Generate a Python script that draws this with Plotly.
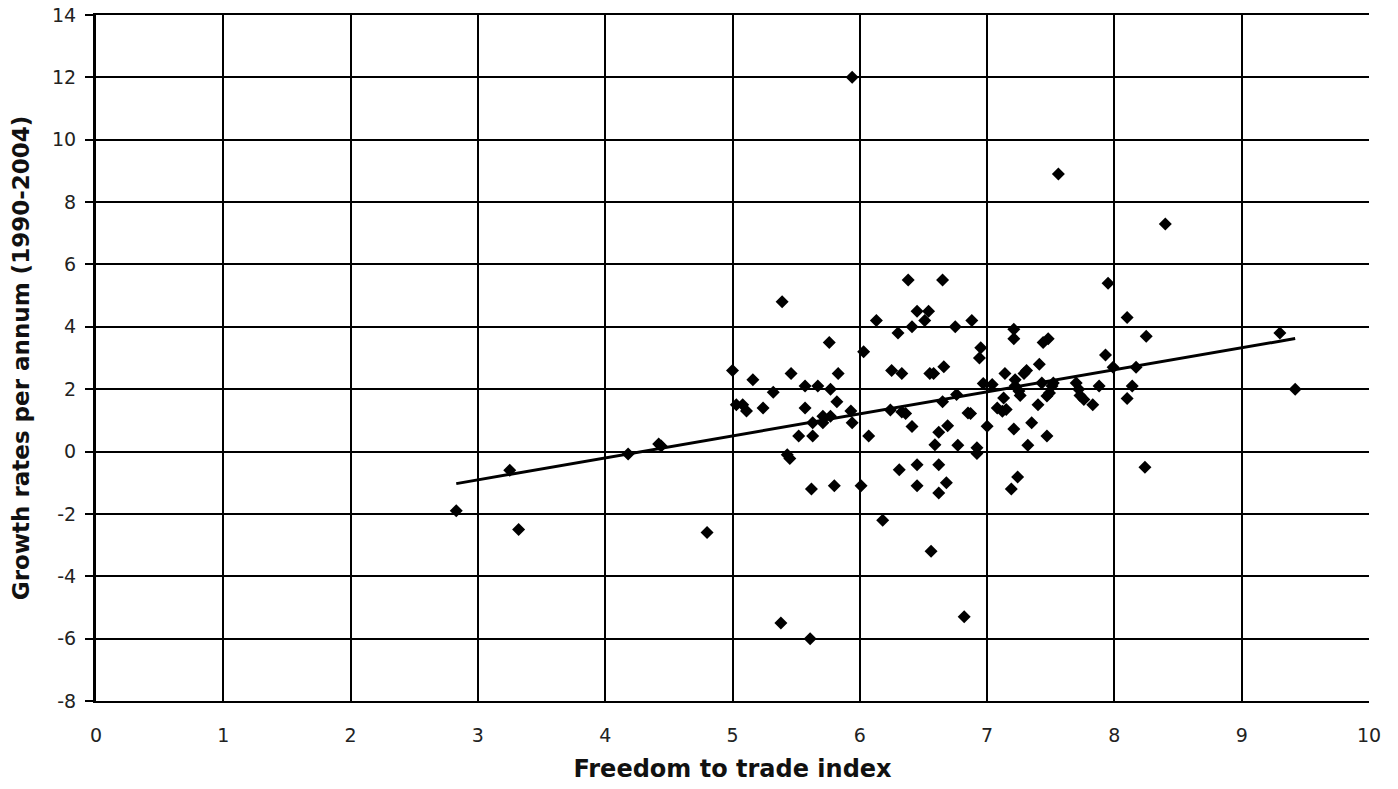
import numpy as np
import plotly.graph_objects as go

# Freedom to trade index (x) and growth rate per annum 1990-2004 (y)
freedom = [
    2.83, 3.25, 3.32, 4.18, 4.42, 4.44, 4.80, 5.38, 5.61, 6.56, 6.82, 5.94, 7.56, 8.40, 9.30, 9.42,
    5.39, 5.00, 5.16, 5.32, 5.46, 5.57, 5.67, 5.76, 5.77, 5.83, 5.82, 5.03, 5.08, 5.11, 5.24, 5.57,
    5.93, 5.94, 5.63, 5.71, 5.71, 5.77, 5.52, 5.63, 5.43, 5.45, 5.62, 5.80, 6.01, 6.07, 6.03, 6.13, 6.18,
    6.38, 6.65, 6.45, 6.54, 6.51, 6.41, 6.30, 6.25, 6.33, 6.55, 6.58, 6.66, 6.24, 6.33, 6.36, 6.41,
    6.65, 6.76, 6.85, 6.62, 6.69, 6.59, 6.31, 6.45, 6.62, 6.45, 6.62, 6.68, 6.75, 6.88, 6.95, 6.94,
    6.77, 6.92, 6.92, 6.97, 6.87,
    7.21, 7.21, 7.44, 7.48, 7.41, 7.14, 7.29, 7.31, 7.22, 7.04, 7.22, 7.25, 7.26, 7.43, 7.51, 7.49,
    7.47, 7.52, 7.70, 7.72, 7.73, 7.76, 7.83, 7.13, 7.08, 7.15, 7.12, 7.40, 7.35, 7.00, 7.21, 7.47,
    7.32, 7.24, 7.19, 7.88, 7.93,
    7.95, 8.10, 8.25, 7.99, 8.17, 8.14, 8.10, 8.24,
]
growth = [
    -1.90, -0.60, -2.50, -0.08, 0.24, 0.18, -2.60, -5.50, -6.00, -3.20, -5.30, 12.00, 8.90, 7.30, 3.80, 2.00,
    4.80, 2.60, 2.30, 1.90, 2.50, 2.10, 2.10, 3.50, 2.00, 2.50, 1.60, 1.50, 1.50, 1.30, 1.40, 1.40,
    1.30, 0.92, 0.92, 1.13, 0.92, 1.13, 0.50, 0.50, -0.10, -0.22, -1.20, -1.10, -1.10, 0.50, 3.20, 4.20, -2.20,
    5.50, 5.50, 4.50, 4.50, 4.20, 4.00, 3.80, 2.60, 2.50, 2.50, 2.50, 2.72, 1.33, 1.27, 1.22, 0.80,
    1.60, 1.83, 1.24, 0.62, 0.83, 0.22, -0.58, -0.42, -0.42, -1.10, -1.33, -1.00, 4.00, 4.20, 3.33, 3.00,
    0.20, 0.12, -0.06, 2.18, 1.22,
    3.92, 3.62, 3.50, 3.62, 2.80, 2.50, 2.50, 2.60, 2.30, 2.15, 2.10, 1.94, 1.80, 2.20, 2.10, 1.88,
    1.78, 2.20, 2.20, 2.00, 1.80, 1.67, 1.50, 1.72, 1.40, 1.35, 1.29, 1.50, 0.92, 0.81, 0.72, 0.50,
    0.20, -0.82, -1.20, 2.10, 3.10,
    5.40, 4.30, 3.70, 2.70, 2.70, 2.10, 1.70, -0.50,
]

x_ticks = [0, 1, 2, 3, 4, 5, 6, 7, 8, 9, 10]
y_ticks = [-8, -6, -4, -2, 0, 2, 4, 6, 8, 10, 12, 14]

xa = np.array(freedom)
ya = np.array(growth)
slope, intercept = np.polyfit(xa, ya, 1)
trend_x = [xa.min(), xa.max()]
trend_y = [slope * v + intercept for v in trend_x]

fig = go.Figure()
fig.add_trace(go.Scatter(
    x=freedom, y=growth, mode="markers",
    marker=dict(symbol="diamond", size=10, color="black", line=dict(width=0)),
    showlegend=False, hoverinfo="x+y",
))
fig.add_trace(go.Scatter(
    x=trend_x, y=trend_y, mode="lines",
    line=dict(color="black", width=3),
    showlegend=False, hoverinfo="skip",
))

font_family = "DejaVu Sans, Verdana, sans-serif"
fig.update_layout(
    width=1398, height=789,
    margin=dict(l=96, r=29, t=15, b=88),
    paper_bgcolor="white", plot_bgcolor="white",
    font=dict(family=font_family, size=19, color="#222"),
    xaxis=dict(
        range=[0, 10], tickvals=x_ticks, ticktext=[str(v) for v in x_ticks],
        showgrid=True, gridcolor="black", gridwidth=1.5,
        zeroline=False, showline=True, linecolor="black", linewidth=1.5, mirror=True,
        ticks="", ticklabelstandoff=16, automargin=False,
        tickfont=dict(family=font_family, size=19, color="#222"),
        title=dict(text="<b>Freedom to trade index</b>", standoff=16,
                   font=dict(family=font_family, size=24, color="#111")),
    ),
    yaxis=dict(
        range=[-8, 14], tickvals=y_ticks, ticktext=[str(v) for v in y_ticks],
        showgrid=True, gridcolor="black", gridwidth=1.5,
        zeroline=False, showline=True, linecolor="black", linewidth=3, mirror=False,
        ticks="outside", ticklen=8, tickwidth=1.5, tickcolor="black",
        ticklabelstandoff=5, automargin=False,
        tickfont=dict(family=font_family, size=19, color="#222"),
        title=dict(text="<b>Growth rates per annum (1990-2004)</b>", standoff=16,
                   font=dict(family=font_family, size=23, color="#111")),
    ),
)

fig.write_html("out.html")
